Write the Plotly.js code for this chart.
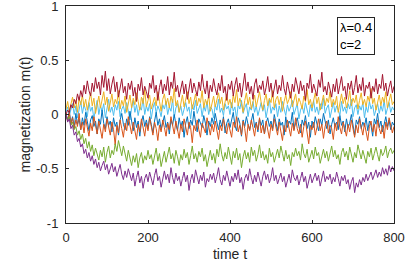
<!DOCTYPE html>
<html>
<head>
<meta charset="utf-8">
<script src="https://cdn.plot.ly/plotly-3.0.1.min.js"></script>
<style>
  html, body { margin: 0; padding: 0; background: #fff; }
  #plot { width: 407px; height: 266px; }
</style>
</head>
<body>
<div id="plot"></div>
<script>
// sampled every 4 time units, t = 0 .. 800
const STEP = 4;

const redSeries = [
  0.00, 0.04, 0.02, 0.09, 0.06, 0.14, 0.10, 0.19, 0.13, 0.22,
  0.16, 0.27, 0.19, 0.31, 0.22, 0.17, 0.29, 0.21, 0.34, 0.24,
  0.30, 0.18, 0.36, 0.25, 0.40, 0.22, 0.33, 0.19, 0.28, 0.35,
  0.21, 0.30, 0.16, 0.27, 0.33, 0.20, 0.26, 0.14, 0.29, 0.23,
  0.31, 0.17, 0.25, 0.12, 0.28, 0.22, 0.34, 0.18, 0.26, 0.21,
  0.15, 0.29, 0.24, 0.36, 0.20, 0.27, 0.13, 0.25, 0.32, 0.19,
  0.28, 0.22, 0.35, 0.18, 0.30, 0.24, 0.39, 0.21, 0.27, 0.16,
  0.25, 0.31, 0.19, 0.28, 0.14, 0.26, 0.33, 0.20, 0.29, 0.23,
  0.17, 0.30, 0.22, 0.37, 0.25, 0.19, 0.31, 0.15, 0.27, 0.21,
  0.33, 0.24, 0.18, 0.29, 0.22, 0.36, 0.20, 0.26, 0.13, 0.28,
  0.23, 0.31, 0.17, 0.27, 0.34, 0.21, 0.29, 0.16, 0.25, 0.38,
  0.22, 0.30, 0.19, 0.26, 0.14, 0.28, 0.33, 0.20, 0.27, 0.23,
  0.31, 0.18, 0.25, 0.35, 0.21, 0.29, 0.16, 0.26, 0.32, 0.19,
  0.27, 0.22, 0.36, 0.24, 0.18, 0.30, 0.23, 0.15, 0.28, 0.21,
  0.34, 0.25, 0.19, 0.31, 0.22, 0.27, 0.13, 0.29, 0.24, 0.37,
  0.20, 0.28, 0.23, 0.17, 0.32, 0.25, 0.39, 0.21, 0.26, 0.18,
  0.30, 0.24, 0.16, 0.28, 0.21, 0.33, 0.19, 0.27, 0.35, 0.22,
  0.26, 0.14, 0.29, 0.23, 0.31, 0.18, 0.25, 0.36, 0.20, 0.28,
  0.22, 0.34, 0.17, 0.27, 0.24, 0.30, 0.15, 0.26, 0.21, 0.33,
  0.19, 0.28, 0.24, 0.37, 0.22, 0.29, 0.17, 0.25, 0.31, 0.20,
  0.26
];

const yellowSeries = [
  0.05, 0.12, 0.03, 0.10, 0.16, 0.06, 0.13, 0.02, 0.15, 0.09,
  0.18, 0.07, 0.14, 0.04, 0.12, 0.20, 0.08, 0.15, 0.01, 0.11,
  0.17, 0.06, 0.13, 0.21, 0.09, 0.16, 0.03, 0.12, 0.19, 0.07,
  0.14, 0.10, 0.22, 0.05, 0.13, 0.08, 0.17, 0.02, 0.11, 0.18,
  0.06, 0.15, 0.09, 0.20, 0.12, 0.04, 0.16, 0.10, 0.23, 0.07,
  0.13, 0.18, 0.05, 0.11, 0.16, 0.08, 0.21, 0.12, 0.03, 0.14,
  0.19, 0.09, 0.15, 0.06, 0.17, 0.11, 0.24, 0.08, 0.13, 0.02,
  0.12, 0.18, 0.07, 0.14, 0.21, 0.10, 0.16, 0.05, 0.13, 0.19,
  0.08, 0.15, 0.11, 0.22, 0.06, 0.14, 0.09, 0.18, 0.03, 0.12,
  0.17, 0.07, 0.13, 0.20, 0.10, 0.16, 0.04, 0.12, 0.19, 0.09,
  0.14, 0.06, 0.18, 0.11, 0.23, 0.08, 0.15, 0.10, 0.02, 0.13,
  0.20, 0.09, 0.16, 0.05, 0.12, 0.18, 0.07, 0.14, 0.21, 0.11,
  0.04, 0.13, 0.19, 0.08, 0.15, 0.11, 0.22, 0.06, 0.14, 0.17,
  0.09, 0.16, 0.03, 0.12, 0.18, 0.10, 0.14, 0.21, 0.07, 0.13,
  0.19, 0.08, 0.15, 0.11, 0.05, 0.17, 0.12, 0.23, 0.09, 0.14,
  0.06, 0.13, 0.20, 0.10, 0.16, 0.04, 0.12, 0.18, 0.08, 0.15,
  0.11, 0.21, 0.07, 0.14, 0.09, 0.17, 0.02, 0.13, 0.19, 0.10,
  0.16, 0.06, 0.12, 0.22, 0.08, 0.15, 0.11, 0.18, 0.05, 0.13,
  0.20, 0.09, 0.14, 0.07, 0.17, 0.12, 0.24, 0.10, 0.15, 0.04,
  0.13, 0.18, 0.08, 0.16, 0.11, 0.21, 0.06, 0.14, 0.19, 0.09,
  0.12
];

const lightBlueSeries = [
  0.02, 0.07, -0.01, 0.05, 0.10, 0.00, 0.08, -0.03, 0.06, 0.12,
  0.01, 0.09, 0.04, -0.02, 0.11, 0.03, 0.07, -0.04, 0.05, 0.13,
  0.00, 0.08, 0.03, 0.10, -0.03, 0.06, 0.14, 0.02, 0.07, -0.01,
  0.09, 0.04, 0.12, -0.02, 0.05, 0.08, 0.01, 0.11, 0.03, -0.05,
  0.06, 0.13, 0.02, 0.09, -0.01, 0.07, 0.04, 0.15, 0.00, 0.08,
  0.03, 0.10, -0.04, 0.06, 0.11, 0.01, 0.08, 0.04, -0.02, 0.09,
  0.05, 0.12, 0.00, 0.07, 0.03, 0.14, -0.03, 0.06, 0.10, 0.02,
  0.08, -0.01, 0.05, 0.11, 0.03, 0.07, -0.04, 0.09, 0.04, 0.13,
  0.01, 0.06, 0.10, -0.02, 0.08, 0.03, 0.12, 0.00, 0.07, 0.05,
  -0.03, 0.09, 0.04, 0.14, 0.02, 0.06, -0.01, 0.10, 0.05, 0.08,
  0.00, 0.11, 0.03, 0.07, -0.04, 0.09, 0.05, 0.13, 0.01, 0.06,
  0.10, -0.02, 0.07, 0.04, 0.12, 0.02, 0.08, -0.01, 0.05, 0.11,
  0.03, 0.09, -0.03, 0.06, 0.14, 0.01, 0.07, 0.04, 0.10, -0.02,
  0.08, 0.02, 0.12, 0.05, -0.01, 0.09, 0.03, 0.07, 0.13, 0.00,
  0.06, 0.10, -0.04, 0.04, 0.08, 0.01, 0.11, 0.05, -0.02, 0.09,
  0.03, 0.13, 0.02, 0.07, 0.00, 0.10, 0.05, 0.15, 0.01, 0.06,
  0.09, -0.03, 0.05, 0.11, 0.02, 0.08, 0.04, -0.01, 0.12, 0.03,
  0.07, 0.01, 0.10, 0.05, 0.14, -0.02, 0.06, 0.09, 0.00, 0.08,
  0.04, 0.11, -0.03, 0.07, 0.02, 0.12, 0.05, 0.09, -0.01, 0.06,
  0.10, 0.01, 0.08, 0.03, 0.13, 0.00, 0.06, 0.11, 0.02, 0.07,
  0.04
];

const blueSeries = [
  0.00, -0.05, 0.03, -0.08, -0.02, -0.12, 0.01, -0.09, -0.04, -0.14,
  -0.03, -0.10, 0.02, -0.07, -0.15, -0.05, -0.01, -0.11, -0.06, -0.18,
  -0.04, -0.09, 0.04, -0.08, -0.13, -0.02, -0.10, -0.06, -0.16, -0.03,
  -0.11, -0.07, -0.19, -0.05, 0.01, -0.09, -0.14, -0.04, -0.10, 0.03,
  -0.08, -0.15, -0.03, -0.12, -0.06, -0.20, -0.07, -0.01, -0.11, -0.05,
  -0.13, -0.02, -0.09, -0.17, -0.06, 0.02, -0.10, -0.04, -0.14, -0.08,
  -0.01, -0.12, -0.07, -0.18, -0.05, -0.10, 0.00, -0.09, -0.15, -0.03,
  -0.11, -0.06, -0.21, -0.08, -0.02, -0.13, -0.05, -0.10, 0.03, -0.07,
  -0.16, -0.04, -0.09, -0.12, -0.01, -0.08, -0.19, -0.06, -0.11, -0.03,
  -0.09, 0.01, -0.07, -0.14, -0.05, -0.11, -0.02, -0.17, -0.08, -0.04,
  -0.12, -0.06, 0.02, -0.10, -0.15, -0.03, -0.08, -0.20, -0.05, -0.11,
  -0.02, -0.09, -0.14, -0.06, 0.01, -0.12, -0.07, -0.16, -0.04, -0.10,
  -0.05, -0.18, -0.08, -0.03, -0.11, -0.06, -0.13, 0.00, -0.09, -0.15,
  -0.04, -0.10, -0.07, -0.19, -0.02, -0.12, -0.06, -0.09, 0.02, -0.14,
  -0.08, -0.03, -0.11, -0.17, -0.05, -0.10, -0.01, -0.13, -0.07, -0.21,
  -0.06, -0.12, -0.02, -0.09, -0.15, -0.04, -0.10, 0.01, -0.08, -0.13,
  -0.05, -0.18, -0.09, -0.03, -0.11, -0.07, -0.14, -0.01, -0.10, -0.06,
  -0.16, -0.04, -0.12, -0.08, 0.00, -0.10, -0.19, -0.05, -0.09, -0.02,
  -0.13, -0.07, -0.11, -0.03, -0.15, -0.06, -0.10, -0.20, -0.04, -0.09,
  0.01, -0.12, -0.06, -0.16, -0.08, -0.02, -0.11, -0.05, -0.14, -0.07,
  -0.10
];

const orangeSeries = [
  0.00, -0.06, 0.02, -0.09, -0.03, -0.13, -0.05, -0.11, 0.01, -0.14,
  -0.07, -0.17, -0.04, -0.12, -0.20, -0.08, -0.15, -0.02, -0.11, -0.18,
  -0.06, -0.13, -0.22, -0.09, -0.16, -0.04, -0.12, -0.19, -0.07, -0.14,
  -0.28, -0.10, -0.17, -0.05, -0.13, -0.21, -0.08, -0.15, -0.02, -0.11,
  -0.18, -0.07, -0.14, -0.23, -0.09, -0.16, -0.04, -0.12, -0.20, -0.08,
  -0.15, -0.03, -0.11, -0.19, -0.07, -0.13, -0.24, -0.10, -0.16, -0.05,
  -0.12, -0.20, -0.08, -0.14, -0.02, -0.11, -0.18, -0.06, -0.15, -0.22,
  -0.09, -0.16, -0.04, -0.13, -0.19, -0.07, -0.12, -0.26, -0.10, -0.15,
  -0.05, -0.14, -0.21, -0.08, -0.12, -0.17, -0.03, -0.11, -0.19, -0.09,
  -0.16, -0.06, -0.13, -0.23, -0.10, -0.15, -0.04, -0.12, -0.18, -0.08,
  -0.14, -0.21, -0.07, -0.12, -0.02, -0.16, -0.10, -0.19, -0.06, -0.13,
  -0.25, -0.09, -0.15, -0.05, -0.12, -0.20, -0.08, -0.14, -0.03, -0.17,
  -0.10, -0.18, -0.06, -0.13, -0.22, -0.09, -0.15, -0.04, -0.11, -0.19,
  -0.07, -0.14, -0.24, -0.10, -0.16, -0.05, -0.12, -0.20, -0.08, -0.15,
  -0.03, -0.13, -0.18, -0.09, -0.21, -0.11, -0.06, -0.16, -0.27, -0.10,
  -0.14, -0.07, -0.19, -0.12, -0.04, -0.15, -0.09, -0.22, -0.11, -0.06,
  -0.17, -0.10, -0.13, -0.23, -0.08, -0.15, -0.02, -0.12, -0.18, -0.07,
  -0.13, -0.20, -0.09, -0.16, -0.05, -0.14, -0.21, -0.10, -0.17, -0.04,
  -0.12, -0.19, -0.08, -0.15, -0.24, -0.11, -0.06, -0.16, -0.09, -0.20,
  -0.05, -0.13, -0.18, -0.10, -0.22, -0.07, -0.14, -0.03, -0.12, -0.17,
  -0.11
];

const greenSeries = [
  0.00, -0.05, -0.02, -0.10, -0.07, -0.14, -0.11, -0.19, -0.15, -0.23,
  -0.18, -0.27, -0.22, -0.31, -0.25, -0.34, -0.28, -0.38, -0.31, -0.36,
  -0.42, -0.33, -0.39, -0.30, -0.44, -0.35, -0.29, -0.40, -0.33, -0.37,
  -0.27, -0.34, -0.24, -0.31, -0.38, -0.29, -0.36, -0.43, -0.33, -0.41,
  -0.47, -0.38, -0.44, -0.36, -0.49, -0.40, -0.35, -0.45, -0.38, -0.42,
  -0.33, -0.41, -0.37, -0.46, -0.39, -0.31, -0.43, -0.36, -0.48, -0.40,
  -0.34, -0.44, -0.38, -0.30, -0.41, -0.36, -0.45, -0.33, -0.39, -0.47,
  -0.37, -0.42, -0.32, -0.40, -0.35, -0.46, -0.38, -0.29, -0.41, -0.36,
  -0.44, -0.34, -0.39, -0.31, -0.43, -0.37, -0.48, -0.40, -0.33, -0.42,
  -0.36, -0.45, -0.32, -0.39, -0.27, -0.37, -0.43, -0.35, -0.41, -0.30,
  -0.38, -0.46, -0.34, -0.40, -0.31, -0.42, -0.36, -0.49, -0.39, -0.33,
  -0.41, -0.35, -0.44, -0.30, -0.38, -0.33, -0.43, -0.37, -0.28, -0.40,
  -0.34, -0.42, -0.37, -0.45, -0.31, -0.39, -0.35, -0.44, -0.38, -0.32,
  -0.40, -0.29, -0.36, -0.43, -0.33, -0.41, -0.37, -0.47, -0.35, -0.39,
  -0.31, -0.38, -0.34, -0.42, -0.27, -0.36, -0.40, -0.32, -0.44, -0.37,
  -0.33, -0.41, -0.30, -0.38, -0.35, -0.45, -0.39, -0.32, -0.40, -0.34,
  -0.43, -0.36, -0.29, -0.39, -0.33, -0.41, -0.37, -0.46, -0.35, -0.31,
  -0.39, -0.34, -0.42, -0.30, -0.37, -0.44, -0.35, -0.40, -0.28, -0.36,
  -0.41, -0.33, -0.38, -0.45, -0.34, -0.39, -0.31, -0.42, -0.36, -0.30,
  -0.37, -0.43, -0.32, -0.38, -0.35, -0.29, -0.40, -0.34, -0.31, -0.36,
  -0.33
];

const purpleSeries = [
  0.00, -0.07, -0.04, -0.13, -0.10, -0.19, -0.16, -0.25, -0.22, -0.30,
  -0.27, -0.36, -0.32, -0.40, -0.35, -0.43, -0.38, -0.46, -0.41, -0.49,
  -0.44, -0.52, -0.47, -0.43, -0.51, -0.46, -0.55, -0.49, -0.45, -0.53,
  -0.48, -0.57, -0.51, -0.46, -0.55, -0.60, -0.52, -0.58, -0.50, -0.56,
  -0.61, -0.54, -0.66, -0.58, -0.52, -0.63, -0.57, -0.68, -0.59, -0.55,
  -0.62, -0.53, -0.59, -0.65, -0.56, -0.50, -0.61, -0.57, -0.67, -0.58,
  -0.52, -0.60, -0.55, -0.63, -0.49, -0.58, -0.64, -0.54, -0.61, -0.57,
  -0.66, -0.59, -0.53, -0.62, -0.56, -0.70, -0.60, -0.55, -0.63, -0.51,
  -0.58, -0.64, -0.56, -0.61, -0.53, -0.67, -0.59, -0.62, -0.55, -0.60,
  -0.54, -0.63, -0.57, -0.49, -0.60, -0.65, -0.56, -0.61, -0.52, -0.58,
  -0.66, -0.57, -0.62, -0.54, -0.60, -0.51, -0.63, -0.58, -0.69, -0.59,
  -0.55, -0.61, -0.50, -0.58, -0.64, -0.56, -0.62, -0.53, -0.59, -0.66,
  -0.57, -0.52, -0.60, -0.55, -0.63, -0.58, -0.49, -0.61, -0.56, -0.64,
  -0.59, -0.54, -0.62, -0.57, -0.67, -0.60, -0.55, -0.63, -0.51, -0.58,
  -0.61, -0.56, -0.65, -0.59, -0.53, -0.62, -0.57, -0.68, -0.60, -0.55,
  -0.63, -0.58, -0.54, -0.61, -0.56, -0.66, -0.59, -0.52, -0.62, -0.57,
  -0.60, -0.55, -0.64, -0.58, -0.62, -0.53, -0.59, -0.66, -0.57, -0.61,
  -0.56, -0.64, -0.60, -0.69, -0.62, -0.58, -0.72, -0.63, -0.67, -0.60,
  -0.65, -0.58, -0.62, -0.55, -0.61, -0.57, -0.53, -0.60, -0.56, -0.51,
  -0.58, -0.53, -0.57, -0.49, -0.55, -0.50, -0.56, -0.47, -0.53, -0.48,
  -0.52
];

const yTickVals = [-1, -0.5, 0, 0.5, 1];
const yTickText = ['-1', '-0.5', '0', '0.5', '1'];
const xTickVals = [0, 200, 400, 600, 800];

const time = redSeries.map((_, i) => i * STEP);

// draw order: last one ends up on top
const series = [
  { y: lightBlueSeries, color: '#4DBEEE' },
  { y: blueSeries, color: '#0072BD' },
  { y: orangeSeries, color: '#D95319' },
  { y: yellowSeries, color: '#EDB120' },
  { y: greenSeries, color: '#77AC30' },
  { y: purpleSeries, color: '#7E2F8E' },
  { y: redSeries, color: '#A2142F' }
];

const traces = series.map(s => ({
  x: time,
  y: s.y,
  type: 'scatter',
  mode: 'lines',
  line: { color: s.color, width: 1 },
  hoverinfo: 'skip',
  showlegend: false
}));

const fontFamily = 'Liberation Sans, Arial, sans-serif';

const axisCommon = {
  showgrid: false,
  zeroline: false,
  showline: true,
  mirror: 'ticks',
  linecolor: '#262626',
  linewidth: 1,
  ticks: 'inside',
  ticklen: 3,
  tickcolor: '#262626',
  ticklabeloverflow: 'allow',
  tickfont: { family: fontFamily, size: 13, color: '#262626' }
};

const layout = {
  width: 407,
  height: 266,
  margin: { l: 66, r: 13, t: 6, b: 43 },
  paper_bgcolor: '#fff',
  plot_bgcolor: '#fff',
  xaxis: Object.assign({}, axisCommon, {
    range: [0, 800],
    tickvals: xTickVals,
    ticklabelstandoff: 2,
    title: { text: 'time t', standoff: 5,
      font: { family: fontFamily, size: 14, color: '#262626' } }
  }),
  yaxis: Object.assign({}, axisCommon, {
    range: [-1, 1],
    tickvals: yTickVals,
    ticktext: yTickText,
    ticklabelstandoff: 4,
    title: { text: 'magnetization m(t)', standoff: 2,
      font: { family: fontFamily, size: 14, color: '#262626' } }
  }),
  annotations: [{
    xref: 'paper', yref: 'paper',
    x: 0.826, y: 0.95,
    xanchor: 'left', yanchor: 'top',
    text: 'λ=0.4<br>c=2',
    align: 'left',
    showarrow: false,
    bgcolor: '#fff',
    bordercolor: '#262626',
    borderwidth: 1,
    borderpad: 2,
    font: { family: fontFamily, size: 13, color: '#000' }
  }]
};

Plotly.newPlot('plot', traces, layout, { displayModeBar: false, staticPlot: true });
</script>
</body>
</html>
